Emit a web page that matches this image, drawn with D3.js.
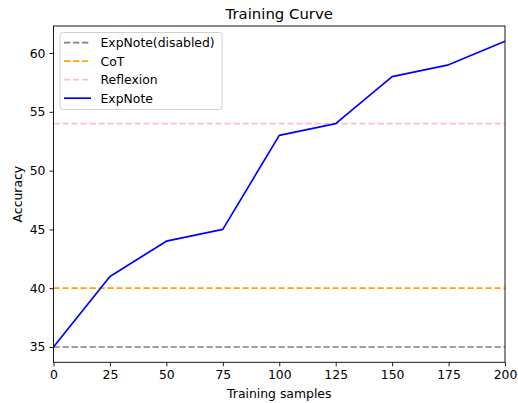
<!DOCTYPE html>
<html><head><meta charset="utf-8">
<script src="https://cdn.jsdelivr.net/npm/d3@7"></script>
<style>body{margin:0;background:#fff}text{font-family:"DejaVu Sans",sans-serif;fill:#000}</style>
</head><body><svg id="c" width="518" height="403"></svg>
<script>
const samples = [0,25,50,75,100,125,150,175,200];
const expnote = [35,41,44,45,53,54,58,59,61];
const baselineNames = ["ExpNote(disabled)","CoT","Reflexion"];
const baselineValues = [35,40,54];
const baselineColors = ["#808080","#FFA500","#FFC0CB"];
const xTicks = [0,25,50,75,100,125,150,175,200];
const yTicks = [35,40,45,50,55,60];

const svg = d3.select("#c");
const L=53.5,R=505,T=26,B=362.3;
const x = d3.scaleLinear().domain([0,200]).range([L,R]);
const y = d3.scaleLinear().domain([33.7,62.3]).range([B,T]);
const lw=1.7, dash="6.3,2.7";
const fs="12.4px";

const g = svg.append("g");
baselineValues.forEach((v,i)=>{
  g.append("line").attr("x1",x(0)).attr("x2",x(200)).attr("y1",y(v)).attr("y2",y(v))
   .attr("stroke",baselineColors[i]).attr("stroke-width",lw).attr("stroke-dasharray",dash);
});
g.append("path").datum(samples.map((s,i)=>[s,expnote[i]]))
 .attr("d",d3.line().x(d=>x(d[0])).y(d=>y(d[1])))
 .attr("fill","none").attr("stroke","#0000FF").attr("stroke-width",lw).attr("stroke-linejoin","round");

const xa = svg.append("g").attr("transform",`translate(0,${B})`)
 .call(d3.axisBottom(x).tickValues(xTicks).tickSize(4).tickPadding(4).tickFormat(d3.format("d")));
const ya = svg.append("g").attr("transform",`translate(${L},0)`)
 .call(d3.axisLeft(y).tickValues(yTicks).tickSize(4).tickPadding(4).tickFormat(d3.format("d")));
[xa,ya].forEach(a=>{a.select(".domain").remove();
 a.selectAll("text").attr("font-size",fs).attr("font-family","DejaVu Sans").attr("fill","#000");
 a.selectAll("line").attr("stroke","#000").attr("stroke-width",0.9);});
svg.append("rect").attr("x",L).attr("y",T).attr("width",R-L).attr("height",B-T)
 .attr("fill","none").attr("stroke","#000").attr("stroke-width",0.9);

svg.append("text").attr("x",(L+R)/2).attr("y",18.5).attr("text-anchor","middle").attr("font-size","14.9px").text("Training Curve");
svg.append("text").attr("x",(L+R)/2).attr("y",398).attr("text-anchor","middle").attr("font-size",fs).text("Training samples");
svg.append("text").attr("transform",`translate(22,${(T+B)/2}) rotate(-90)`).attr("text-anchor","middle").attr("font-size",fs).text("Accuracy");

const leg = svg.append("g");
leg.append("rect").attr("x",60).attr("y",32.5).attr("width",162).attr("height",77).attr("rx",2.5)
 .attr("fill","#fff").attr("fill-opacity",0.8).attr("stroke","#ccc").attr("stroke-width",0.9);
const items = baselineNames.map((n,i)=>({n,c:baselineColors[i],d:dash})).concat([{n:"ExpNote",c:"#0000FF",d:null}]);
items.forEach((it,i)=>{
  const cy=42.7+i*18.5;
  leg.append("line").attr("x1",64).attr("x2",91).attr("y1",cy).attr("y2",cy)
   .attr("stroke",it.c).attr("stroke-width",lw).attr("stroke-dasharray",it.d);
  leg.append("text").attr("x",100.5).attr("y",cy+4.4).attr("font-size",fs).text(it.n);
});
</script></body></html>
